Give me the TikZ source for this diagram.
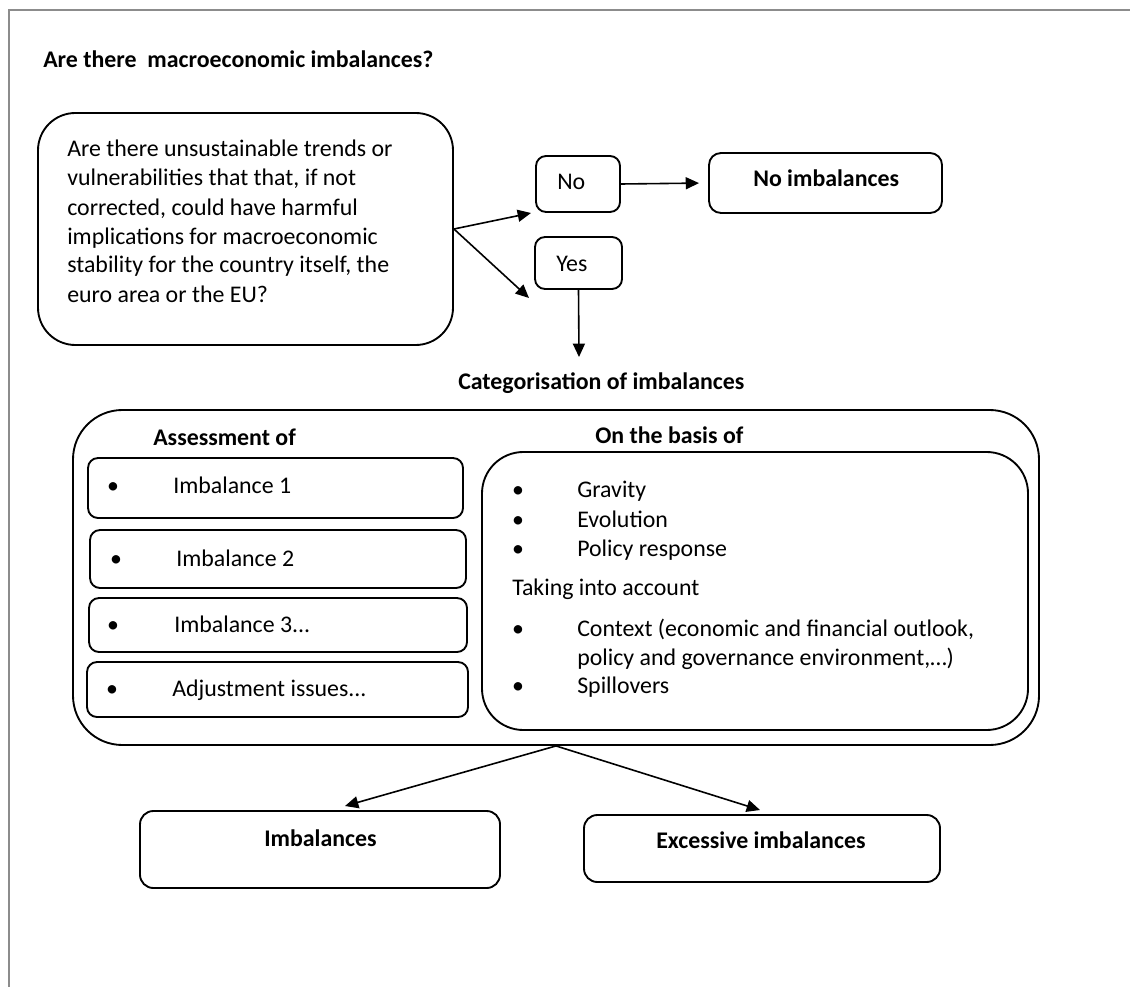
\documentclass[tikz,border=0pt]{standalone}
\usepackage{fontspec}
\setmainfont{Carlito}
\usetikzlibrary{positioning,arrows.meta,fit}

\begin{document}
\begin{tikzpicture}[x=0.75pt,y=-0.75pt,
  every node/.style={inner sep=0pt,font=\fontsize{17.9}{21.75}\selectfont},
  txt/.style={anchor=base west},
  hd/.style={anchor=base west,font=\fontsize{17.9}{21.75}\selectfont\bfseries},
  rbox/.style={draw,line width=1.4pt,rounded corners=#1,inner sep=0pt},
  rbox/.default=7.5pt,
  arr/.style={line width=1.2pt,-{Triangle[length=10pt,width=9pt]}}]
\useasboundingbox (0,0) rectangle (1130,987);
% page frame, only top and left edges
\draw[line width=1.5pt,black!45] (9,987) -- (9,10) -- (1130,10);
\node[hd] (title) at (43,68) {Are there~ macroeconomic imbalances?};
% the question (base = last line)
\node[rbox=28pt,fit={(38,113) (453,345)}] (q) {};
\node[txt,align=left] (qtext) at (67,302) {Are there unsustainable trends or\\
  vulnerabilities that that, if not\\ corrected, could have harmful\\
  implications for macroeconomic\\ stability for the country itself, the\\
  euro area or the EU?};
% answers
\node[rbox,fit={(536,156) (620,212)}] (no) {};
\node[txt] (nolbl) at (557,190) {No};
\node[rbox=9pt,fit={(709,153) (942,213)}] (noimb) {};
\node[hd] (noimblbl) at (753,187) {No imbalances};
\node[rbox,fit={(535,237) (622,289)}] (yes) {};
\node[txt] (yeslbl) at (556,272) {Yes};
\node[hd] (cat) at (458,389) {Categorisation of imbalances};
% categorisation block
\node[rbox=37pt,fit={(73,410) (1039,745)}] (outer) {};
\node[hd] (assess) at (153,445) {Assessment of};
\node[hd] (basis) at (595,443) {On the basis of};
\foreach \i/\xa/\ya/\xb/\yb/\bx/\tx/\by/\txt in {
  1/88/458/463/518/113/173/493/{Imbalance 1},
  2/90/530/466/588/116/176/566/{Imbalance 2},
  3/89/598/467/652/113/174/632/{Imbalance 3...},
  4/87/662/468/717/112/172/696/{Adjustment issues...}}
{
  \node[rbox,fit={(\xa,\ya) (\xb,\yb)}] (imb\i) {};
  \node[anchor=base] (imbdot\i) at (\bx,\by) {•};
  \node[txt] (imbtxt\i) at (\tx,\by) {\txt};
}
\node[rbox=31pt,fit={(482,452) (1028,730)}] (basisbox) {};
\foreach \j/\by/\txt in {1/497/Gravity, 2/527/Evolution, 3/556/{Policy response},
  4/636/{Context (economic and financial outlook,}, 5/693/Spillovers}
{
  \node[anchor=base] (crdot\j) at (518,\by) {•};
  \node[txt] (crit\j) at (577,\by) {\txt};
}
\node[txt] (crcont) at (577,665) {policy and governance environment,…)};
\node[txt] (taking) at (512,595) {Taking into account};
% outcomes
\node[rbox=10pt,fit={(140,811) (500,888)}] (imbal) {};
\node[hd] (imballbl) at (264,846) {Imbalances};
\node[rbox=10pt,fit={(584,815) (940,882)}] (excess) {};
\node[hd] (excesslbl) at (656,848) {Excessive imbalances};
% arrow ends
\coordinate (noin) at (531,213);
\coordinate (yesin) at (529,298);
\coordinate (catin) at (579,357);
\coordinate (imbin) at (345,806);
\coordinate (excin) at (760,810);
\draw[arr] (q.east) -- (noin);
\draw[arr] (q.east) -- (yesin);
\draw[arr,shorten >=6.75pt] (no.east) -- (noimb.west);
\draw[arr] (yes.south) -- (catin);
\draw[arr] (outer.south) -- (imbin);
\draw[arr] (outer.south) -- (excin);
\end{tikzpicture}
\end{document}
